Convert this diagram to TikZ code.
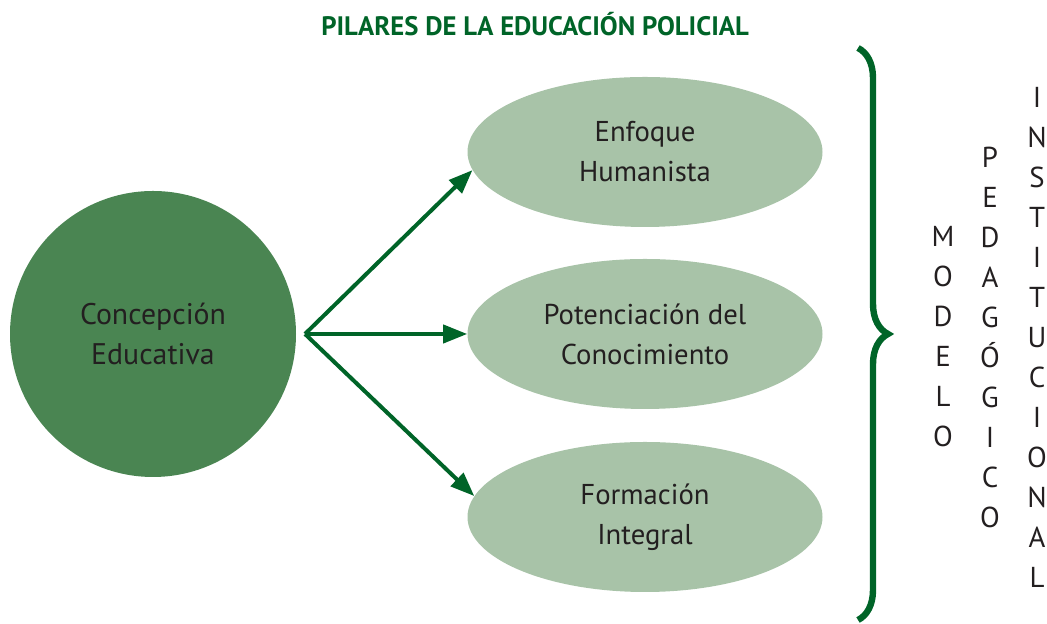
\documentclass[tikz,border=0pt]{standalone}
\usepackage{fontspec}
\setmainfont{PT Sans}
\usetikzlibrary{arrows.meta,decorations.pathreplacing,shapes.geometric}
\definecolor{darkgreen}{RGB}{0,100,40}
\definecolor{midgreen}{RGB}{74,133,82}
\definecolor{palegreen}{RGB}{168,195,168}
\definecolor{textgray}{RGB}{35,31,32}

\begin{document}
\begin{tikzpicture}[
  pillar/.style={ellipse, fill=palegreen, minimum width=8.875cm, minimum height=3.75cm,
    inner sep=0pt, text=textgray, align=center, font=\fontsize{20.4}{28.45}\selectfont},
  link/.style={draw=darkgreen, line width=0.1cm, -{Triangle[length=0.6cm,width=0.45cm]}},
  column/.style={align=center, text=textgray, font=\fontsize{20.5}{28.45}\selectfont}
]
 \useasboundingbox (0,0) rectangle (26.175,15.6);

 % Title
 \node[text=darkgreen, font=\bfseries\fontsize{19}{22}\selectfont] (title) at (13.375,15.0)
   {PILARES DE LA EDUCACIÓN POLICIAL};

 % Circle on the left
 \node[circle, fill=midgreen, minimum size=7.15cm, align=center, text=textgray,
   font=\fontsize{21.2}{28.45}\selectfont] (concepcion) at (3.825,7.25) {Concepción\\Educativa};

 % The three pillars
 \node[pillar] (humanista) at (16.125,11.8) {Enfoque\\Humanista};
 \node[pillar] (conocimiento) at (16.125,7.25) {Potenciación del\\Conocimiento};
 \node[pillar] (integral) at (16.125,2.675) {Formación\\Integral};

 % Arrows from one fork point
 \coordinate (fork) at (7.625,7.25);
 \draw[link] (fork) -- (humanista.186);
 \draw[link] (fork) -- (conocimiento.west);
 \draw[link] (fork) -- (integral.173);

 % Brace
 \coordinate (bracetop) at (21.45,14.4);
 \coordinate (bracebot) at (21.45,0.1);
 \draw[darkgreen, line width=0.16cm, decorate, decoration={brace, amplitude=0.75cm}]
   (bracetop) -- (bracebot);

 % Vertical words
 \node[column] (modelo) at (23.575,7.175) {M\\O\\D\\E\\L\\O};
 \node[column] (pedagogico) at (24.75,7.175) {P\\E\\D\\A\\G\\Ó\\G\\I\\C\\O};
 \node[column] (institucional) at (25.925,7.175) {I\\N\\S\\T\\I\\T\\U\\C\\I\\O\\N\\A\\L};

\end{tikzpicture}
\end{document}
